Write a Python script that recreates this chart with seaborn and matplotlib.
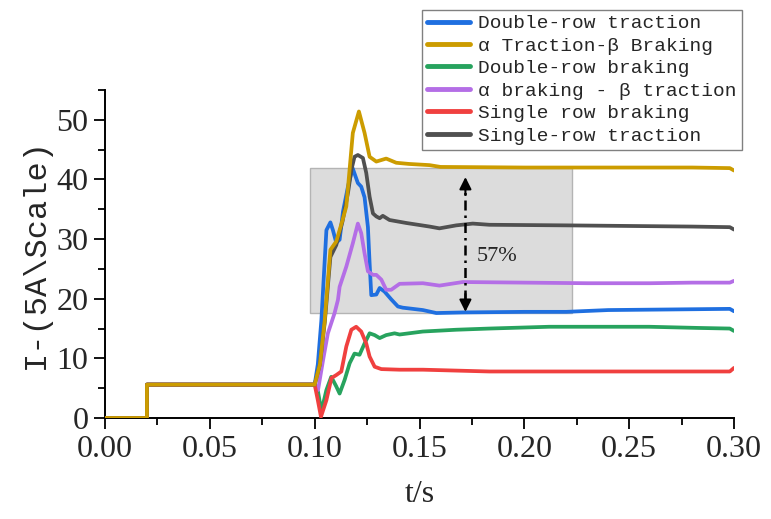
import numpy as np
import pandas as pd
import matplotlib
matplotlib.use("Agg")
import matplotlib.pyplot as plt
from matplotlib.patches import Rectangle
from matplotlib.ticker import MultipleLocator, FormatStrFormatter
import seaborn as sns

# ---------------- data ----------------
base_t = [0.0, 0.0200, 0.0200]
base_v = [0.0, 0.0, 5.6]

dr_trac_t = [0.1000, 0.1015, 0.1032, 0.1056, 0.1075, 0.1087, 0.1103, 0.1119, 0.1135, 0.1160,
             0.1181, 0.1206, 0.1222, 0.1238, 0.1254, 0.1262, 0.1270, 0.1294, 0.1310, 0.1333,
             0.1365, 0.1397, 0.1420, 0.1516, 0.1580, 0.1706, 0.2000, 0.2200, 0.2400, 0.2700,
             0.2980, 0.3000]
dr_trac_v = [5.6, 9.0, 16.4, 31.5, 32.8, 31.5, 29.4, 29.9, 34.6, 39.0,
             41.9, 39.4, 38.8, 37.0, 32.0, 26.0, 20.6, 20.7, 21.8, 21.2,
             19.9, 18.7, 18.5, 18.1, 17.6, 17.7, 17.8, 17.8, 18.1, 18.2,
             18.3, 17.9]

ab_trac_t = [0.1000, 0.1025, 0.1048, 0.1075, 0.1103, 0.1133, 0.1151, 0.1182, 0.1211, 0.1238,
             0.1262, 0.1294, 0.1341, 0.1389, 0.1450, 0.1548, 0.1600, 0.2000, 0.2500, 0.2800,
             0.2980, 0.3000]
ab_trac_v = [5.6, 9.0, 16.4, 28.2, 29.6, 33.2, 35.5, 47.8, 51.4, 47.8,
             43.8, 43.0, 43.5, 42.8, 42.6, 42.4, 42.1, 42.0, 42.0, 42.0,
             41.9, 41.5]

dr_brak_t = [0.1000, 0.1016, 0.1032, 0.1056, 0.1079, 0.1103, 0.1119, 0.1143, 0.1167, 0.1190,
             0.1214, 0.1238, 0.1262, 0.1286, 0.1310, 0.1341, 0.1381, 0.1405, 0.1516, 0.1675,
             0.1833, 0.2119, 0.2595, 0.2833, 0.2980, 0.3000]
dr_brak_v = [5.6, 4.4, 1.1, 4.7, 6.9, 5.3, 4.1, 6.4, 9.2, 10.8,
             10.6, 12.5, 14.2, 13.9, 13.4, 13.9, 14.2, 14.0, 14.5, 14.8,
             15.0, 15.3, 15.3, 15.1, 15.0, 14.6]

ab_brak_t = [0.1000, 0.1016, 0.1040, 0.1063, 0.1095, 0.1111, 0.1119, 0.1151, 0.1182, 0.1206,
             0.1222, 0.1238, 0.1254, 0.1278, 0.1294, 0.1318, 0.1341, 0.1365, 0.1405, 0.1516,
             0.1595, 0.1706, 0.2000, 0.2300, 0.2600, 0.2800, 0.2980, 0.3000]
ab_brak_v = [5.6, 4.7, 9.7, 14.2, 17.6, 19.8, 22.0, 25.4, 29.3, 32.6,
             31.0, 27.6, 24.6, 24.0, 24.0, 23.2, 21.5, 21.5, 22.5, 22.6,
             22.2, 22.8, 22.7, 22.6, 22.6, 22.7, 22.7, 23.0]

sr_brak_t = [0.1000, 0.1015, 0.1030, 0.1056, 0.1080, 0.1103, 0.1127, 0.1151, 0.1175, 0.1198,
             0.1222, 0.1246, 0.1262, 0.1286, 0.1318, 0.1405, 0.1516, 0.1833, 0.2200, 0.2600,
             0.2980, 0.3000]
sr_brak_v = [5.6, 3.0, 0.2, 3.0, 6.7, 7.2, 7.8, 12.0, 14.8, 15.3,
             14.5, 12.5, 10.3, 8.6, 8.2, 8.1, 8.1, 7.8, 7.8, 7.8,
             7.8, 8.4]

sr_trac_t = [0.1000, 0.1025, 0.1048, 0.1075, 0.1103, 0.1133, 0.1160, 0.1175, 0.1190, 0.1206,
             0.1230, 0.1246, 0.1262, 0.1278, 0.1294, 0.1310, 0.1325, 0.1357, 0.1437, 0.1548,
             0.1595, 0.1675, 0.1754, 0.1833, 0.2200, 0.2500, 0.2800, 0.2980, 0.3000]
sr_trac_v = [5.6, 9.0, 16.0, 27.0, 29.0, 33.0, 38.0, 41.6, 43.8, 44.1,
             43.6, 41.1, 37.1, 34.3, 33.8, 33.5, 33.9, 33.2, 32.7, 32.1,
             31.8, 32.3, 32.6, 32.4, 32.3, 32.2, 32.1, 32.0, 31.6]

labels = ["Double-row traction", "α Traction-β Braking", "Double-row braking",
          "α braking - β traction", "Single row braking", "Single-row traction"]
colors = ["#1f6fe0", "#cc9c00", "#27a35e", "#b46ee6", "#f0403f", "#505050"]

series = [(dr_trac_t, dr_trac_v), (ab_trac_t, ab_trac_v), (dr_brak_t, dr_brak_v),
          (ab_brak_t, ab_brak_v), (sr_brak_t, sr_brak_v), (sr_trac_t, sr_trac_v)]

frames = []
for lab, (t, v) in zip(labels, series):
    tt = base_t + t
    vv = base_v + v
    frames.append(pd.DataFrame({"t": tt, "I": vv, "series": lab}))
df = pd.concat(frames, ignore_index=True)

# box / annotation values
box_t0, box_t1 = 0.098, 0.2225
box_v0, box_v1 = 17.6, 42.0
arrow_t = 0.1719
arrow_lo, arrow_hi = 17.8, 40.4
pct_text = "57%"

# ---------------- plotting ----------------
sns.set_style("ticks")
plt.rcParams["font.family"] = ["Liberation Serif", "DejaVu Serif"]

fig = plt.figure(figsize=(7.71, 5.19), dpi=100)
ax = fig.add_axes([0.1362, 0.1946, 0.8158, 0.632])

ax.add_patch(Rectangle((box_t0, box_v0), box_t1 - box_t0, box_v1 - box_v0,
                       facecolor="#dcdcdc", edgecolor="#b4b4b4", lw=1.0, zorder=1))

sns.lineplot(data=df, x="t", y="I", hue="series", hue_order=labels, palette=colors,
             units="series", estimator=None, sort=False, lw=2.7, ax=ax, zorder=3,
             legend=True)

# golden line on top of the shared baseline
ax.lines[1].set_zorder(5)
for ln in ax.lines:
    ln.set_solid_joinstyle("round")

# arrow
ax.plot([arrow_t, arrow_t], [arrow_lo + 2.0, arrow_hi - 2.0], color="black",
        lw=1.8, ls=(0, (4, 2, 1, 2)), zorder=6)
for tip, tail in [(arrow_hi, arrow_hi - 3.0), (arrow_lo, arrow_lo + 3.0)]:
    ax.annotate("", xy=(arrow_t, tip), xytext=(arrow_t, tail),
                arrowprops=dict(arrowstyle="-|>", color="black", lw=1.5,
                                mutation_scale=18, shrinkA=0, shrinkB=0), zorder=6)
ax.text(0.1771, 27.0, pct_text, fontsize=16, va="center", ha="left", zorder=6)

ax.set_xlim(0, 0.30)
ax.set_ylim(0, 55)
ax.xaxis.set_major_locator(MultipleLocator(0.05))
ax.xaxis.set_minor_locator(MultipleLocator(0.025))
ax.yaxis.set_major_locator(MultipleLocator(10))
ax.yaxis.set_minor_locator(MultipleLocator(5))
ax.xaxis.set_major_formatter(FormatStrFormatter("%.2f"))
ax.tick_params(axis="both", which="major", direction="out", length=8, width=1.3,
               labelsize=23, color="black", pad=4)
ax.tick_params(axis="both", which="minor", direction="out", length=5, width=1.3,
               color="black")
for s in ["left", "bottom"]:
    ax.spines[s].set_linewidth(1.4)
    ax.spines[s].set_color("black")
sns.despine(ax=ax)

ax.set_xlabel("t/s", fontsize=23, labelpad=12)
ax.set_ylabel("I-(5A\\Scale)", fontsize=23, family=["Liberation Mono", "DejaVu Sans Mono"],
              labelpad=4)

# legend
handles, labs = ax.get_legend_handles_labels()
ax.get_legend().remove()
for h in handles:
    h.set_linewidth(3.5)
leg = fig.legend(handles, labs, loc="upper right", bbox_to_anchor=(0.962, 0.981),
                 frameon=True, fancybox=False, edgecolor="#808080", framealpha=1,
                 prop={"family": ["Liberation Mono", "DejaVu Sans Mono"], "size": 14},
                 handlelength=2.2, handletextpad=0.45, labelspacing=0.25,
                 borderpad=0.25, borderaxespad=0)
leg.get_frame().set_linewidth(1.0)

fig.savefig("out.png", dpi=100, facecolor="white")
